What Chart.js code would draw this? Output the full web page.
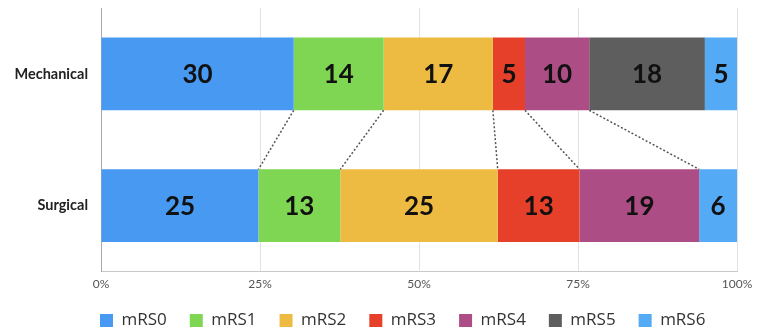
<!DOCTYPE html>
<html>
<head>
<meta charset="utf-8">
<script src="https://cdn.jsdelivr.net/npm/chart.js@4"></script>
<style>
  html, body { margin: 0; padding: 0; background: #fff; }
  #wrap { width: 758px; height: 331px; }
</style>
</head>
<body>
<div id="wrap"><canvas id="c" width="758" height="331"></canvas></div>
<script>
// Outcome groups (rows) and mRS grades (stack segments)
const categories = ['Mechanical', 'Surgical'];
const grades = ['mRS0', 'mRS1', 'mRS2', 'mRS3', 'mRS4', 'mRS5', 'mRS6'];
const mechanical = [30, 14, 17, 5, 10, 18, 5];
const surgical = [25, 13, 25, 13, 19, 0, 6];
const xTicks = [0, 25, 50, 75, 100];
const gradeColors = ['#4799F2', '#7FD653', '#EEBB42', '#E6402A', '#AD4D85', '#5E5E5E', '#55AAF6'];

const rows = [mechanical, surgical];
// each row is shown as a 100% bar
const share = (row, i) => row[i] / row.reduce((a, b) => a + b, 0) * 100;

const datasets = grades.map((g, i) => ({
  label: g,
  data: rows.map(r => share(r, i)),
  raw: rows.map(r => r[i]),
  backgroundColor: gradeColors[i],
  borderWidth: 0
}));

// value labels centred inside each segment
const segmentLabels = {
  id: 'segmentLabels',
  afterDatasetsDraw(chart) {
    const ctx = chart.ctx;
    ctx.save();
    ctx.font = 'bold 26px Lato';
    ctx.fillStyle = '#111';
    ctx.textAlign = 'center';
    ctx.textBaseline = 'middle';
    chart.data.datasets.forEach((ds, di) => {
      chart.getDatasetMeta(di).data.forEach((el, j) => {
        const v = ds.raw[j];
        if (!v) return;
        const p = el.getProps(['x', 'base', 'y'], true);
        ctx.fillText(String(v), (p.x + p.base) / 2, p.y + 1);
      });
    });
    ctx.restore();
  }
};

// dotted guides joining matching segment ends of the two bars
const connectors = {
  id: 'connectors',
  afterDatasetsDraw(chart) {
    const ctx = chart.ctx;
    const n = chart.data.datasets.length;
    ctx.save();
    ctx.strokeStyle = '#555';
    ctx.lineWidth = 1.5;
    ctx.setLineDash([2, 2]);
    for (let di = 0; di < n - 1; di++) {
      const ds = chart.data.datasets[di];
      if (!ds.raw[0] || !ds.raw[1]) continue;
      const meta = chart.getDatasetMeta(di);
      const a = meta.data[0].getProps(['x', 'y', 'height'], true);
      const b = meta.data[1].getProps(['x', 'y', 'height'], true);
      ctx.beginPath();
      ctx.moveTo(a.x, a.y + a.height / 2);
      ctx.lineTo(b.x, b.y - b.height / 2);
      ctx.stroke();
    }
    ctx.restore();
  }
};

// place the legend row under the axis
const legendPlacement = {
  id: 'legendPlacement',
  afterLayout(chart) {
    const lg = chart.legend;
    const h = lg.bottom - lg.top;
    const w = lg.right - lg.left;
    lg.left = 77; lg.right = 77 + w;
    lg.top = 289; lg.bottom = 289 + h;
  }
};

new Chart(document.getElementById('c'), {
  type: 'bar',
  data: { labels: categories, datasets },
  plugins: [segmentLabels, connectors, legendPlacement],
  options: {
    indexAxis: 'y',
    responsive: false,
    animation: false,
    events: [],
    layout: { padding: { left: 0, right: 21, top: 8, bottom: -15 } },
    datasets: { bar: { categoryPercentage: 1, barPercentage: 0.552 } },
    scales: {
      x: {
        stacked: true,
        min: 0, max: 100,
        afterBuildTicks(scale) { scale.ticks = xTicks.map(v => ({ value: v })); },
        ticks: {
          callback: v => v + '%',
          color: '#555',
          font: { family: 'Lato', size: 12 },
          padding: 5,
          maxRotation: 0
        },
        grid: { color: '#e2e2e2', drawTicks: false, lineWidth: 1 },
        border: { color: '#c8c8c8', width: 1 }
      },
      y: {
        stacked: true,
        afterFit(scale) {
          scale.width = 101;
          scale.paddingTop = 0;
          scale.paddingBottom = 0;
        },
        ticks: {
          color: '#222',
          font: { family: 'Lato', size: 14.5, weight: 'bold' },
          padding: 13
        },
        grid: { display: false, drawTicks: false },
        border: { color: '#a8a8a8', width: 1 }
      }
    },
    plugins: {
      tooltip: { enabled: false },
      legend: {
        position: 'bottom',
        align: 'start',
        labels: {
          boxWidth: 13,
          boxHeight: 13,
          padding: 23,
          color: '#333',
          font: { family: 'Open Sans', size: 17 }
        }
      }
    }
  }
});
</script>
</body>
</html>
